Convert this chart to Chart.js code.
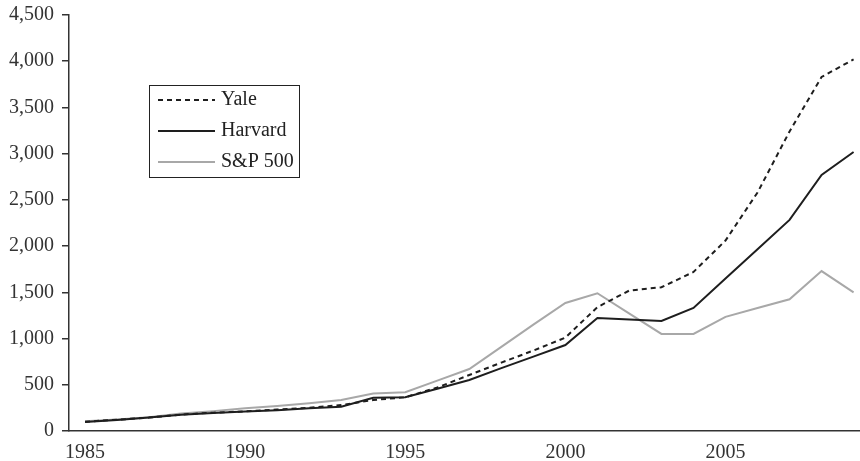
<!DOCTYPE html>
<html>
<head>
<meta charset="utf-8">
<script src="https://cdn.jsdelivr.net/npm/chart.js@4/dist/chart.umd.min.js"></script>
<style>
  html, body { margin: 0; padding: 0; background: #fff; }
  #wrap { position: relative; width: 860px; height: 461px; }
</style>
</head>
<body>
<div id="wrap"><canvas id="chart"></canvas></div>
<script>
const years = [1985, 1986, 1987, 1988, 1989, 1990, 1991, 1992, 1993, 1994, 1995, 1996,
               1997, 1998, 1999, 2000, 2001, 2002, 2003, 2004, 2005, 2006, 2007, 2008, 2009];
const yale = [100, 122, 145, 178, 198, 212, 232, 252, 280, 335, 365, 470,
              606, 740, 870, 1010, 1340, 1520, 1555, 1720, 2060, 2580, 3240, 3830, 4020];
const harvard = [97, 120, 145, 175, 195, 210, 225, 245, 262, 360, 365, 458,
                 552, 680, 805, 930, 1222, 1205, 1190, 1331, 1650, 1965, 2283, 2769, 3018];
const sp500 = [105, 125, 150, 190, 215, 245, 270, 300, 335, 405, 420, 545,
               670, 910, 1150, 1385, 1490, 1270, 1050, 1050, 1235, 1330, 1425, 1730, 1500];
const xTicks = [1985, 1990, 1995, 2000, 2005];
const labels = ['Yale', 'Harvard', 'S&P 500'];

const FONT = '"Liberation Serif", "DejaVu Serif", serif';

function pts(values) {
    return values.map(function(v, i) { return { x: years[i], y: v }; });
}

// legend box drawn at a fixed spot, like the printed figure
const boxLegend = {
    id: 'boxLegend',
    afterDraw(chart) {
        const ctx = chart.ctx;
        const x0 = 149, y0 = 85, w = 150, h = 92;
        ctx.save();
        ctx.fillStyle = '#fff';
        ctx.fillRect(x0, y0, w, h);
        ctx.strokeStyle = '#222';
        ctx.lineWidth = 1;
        ctx.strokeRect(x0 + 0.5, y0 + 0.5, w, h);
        chart.data.datasets.forEach(function(ds, i) {
            const y = y0 + 15 + i * 31;
            ctx.beginPath();
            ctx.strokeStyle = ds.borderColor;
            ctx.lineWidth = ds.borderWidth;
            ctx.setLineDash(ds.borderDash || []);
            ctx.moveTo(x0 + 9, y);
            ctx.lineTo(x0 + 66, y);
            ctx.stroke();
            ctx.setLineDash([]);
            ctx.fillStyle = '#222';
            ctx.font = '20px ' + FONT;
            ctx.textBaseline = 'middle';
            ctx.fillText(ds.label, x0 + 72, y);
        });
        ctx.restore();
    }
};

new Chart(document.getElementById('chart'), {
    type: 'line',
    data: {
        datasets: [
            { label: labels[0], data: pts(yale), borderColor: '#1e1e1e', borderWidth: 2, borderDash: [5, 4] },
            { label: labels[1], data: pts(harvard), borderColor: '#1e1e1e', borderWidth: 2 },
            { label: labels[2], data: pts(sp500), borderColor: '#a8a8a8', borderWidth: 2 }
        ]
    },
    options: {
        responsive: true,
        maintainAspectRatio: false,
        animation: false,
        elements: { point: { radius: 0 }, line: { tension: 0 } },
        layout: { padding: { top: 15, right: 0, left: 0, bottom: 0 } },
        plugins: { legend: { display: false }, tooltip: { enabled: false } },
        scales: {
            x: {
                type: 'linear',
                min: 1984.5,
                max: 2009.2,
                afterBuildTicks: function(scale) {
                    scale.ticks = xTicks.map(function(v) { return { value: v }; });
                },
                afterFit: function(scale) {
                    scale.height = 30;
                    scale.paddingLeft = 0;
                    scale.paddingRight = 0;
                },
                grid: { display: false },
                border: { display: true, color: '#333', width: 1.5 },
                ticks: {
                    color: '#333',
                    font: { family: FONT, size: 20 },
                    padding: 2,
                    maxRotation: 0,
                    callback: function(v) { return String(v); }
                }
            },
            y: {
                min: 0,
                max: 4500,
                afterFit: function(scale) {
                    scale.width = 69;
                    scale.paddingTop = 0;
                    scale.paddingBottom = 0;
                },
                grid: { drawOnChartArea: false, drawTicks: true, tickLength: 7, color: '#333', lineWidth: 1.5 },
                border: { display: true, color: '#333', width: 1.5 },
                ticks: {
                    stepSize: 500,
                    color: '#333',
                    font: { family: FONT, size: 20 },
                    padding: 8,
                    callback: function(v) { return v.toLocaleString('en-US'); }
                }
            }
        }
    },
    plugins: [boxLegend]
});
</script>
</body>
</html>
